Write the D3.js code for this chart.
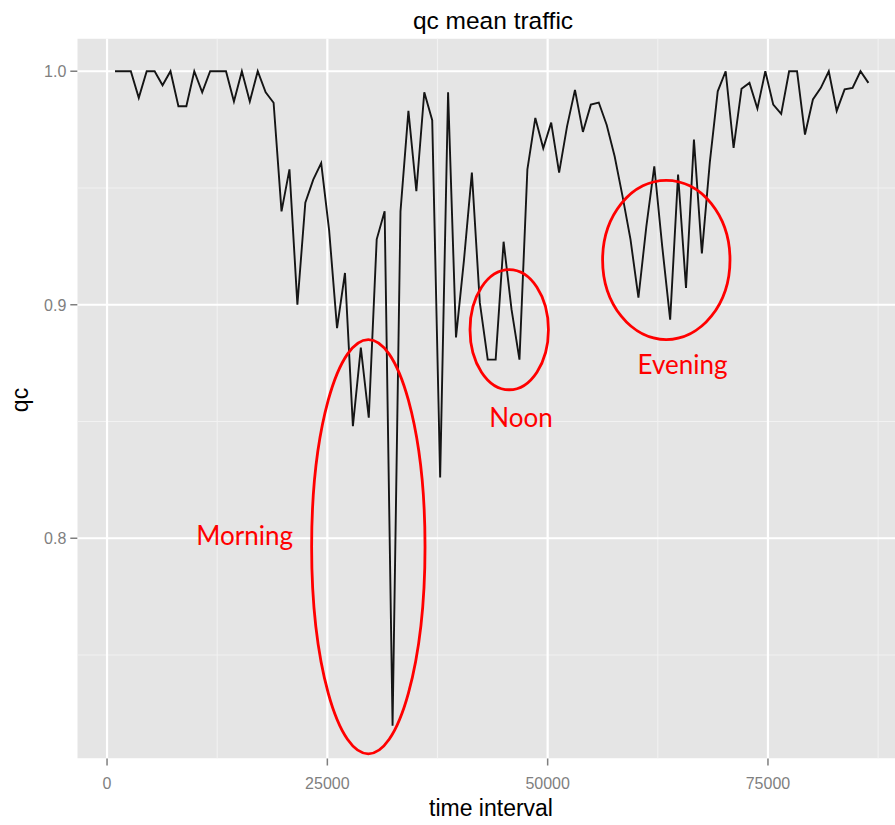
<!DOCTYPE html>
<html>
<head>
<meta charset="utf-8">
<script src="https://cdn.jsdelivr.net/npm/d3@7"></script>
<style>
  html, body { margin: 0; padding: 0; background: #fff; }
  svg { display: block; }
</style>
</head>
<body>
<svg id="chart" width="895" height="825"></svg>
<script>
// ---- data ----
const timeInterval = [
  900, 1800, 2700, 3600, 4500, 5400, 6300, 7200, 8100, 9000,
  9900, 10800, 11700, 12600, 13500, 14400, 15300, 16200, 17100, 18000,
  18900, 19800, 20700, 21600, 22500, 23400, 24300, 25200, 26100, 27000,
  27900, 28800, 29700, 30600, 31500, 32400, 33300, 34200, 35100, 36000,
  36900, 37800, 38700, 39600, 40500, 41400, 42300, 43200, 44100, 45000,
  45900, 46800, 47700, 48600, 49500, 50400, 51300, 52200, 53100, 54000,
  54900, 55800, 56700, 57600, 58500, 59400, 60300, 61200, 62100, 63000,
  63900, 64800, 65700, 66600, 67500, 68400, 69300, 70200, 71100, 72000,
  72900, 73800, 74700, 75600, 76500, 77400, 78300, 79200, 80100, 81000,
  81900, 82800, 83700, 84600, 85500, 86400
];
const qc = [
  1.0, 1.0, 1.0, 0.9886, 1.0, 1.0, 0.994, 1.0, 0.985, 0.985,
  1.0, 0.991, 1.0, 1.0, 1.0, 0.987, 1.0, 0.987, 1.0, 0.991,
  0.9865, 0.940, 0.958, 0.900, 0.9437, 0.9536, 0.9607, 0.932, 0.890, 0.9136,
  0.848, 0.8816, 0.8516, 0.928, 0.940, 0.7197, 0.940, 0.983, 0.9486, 0.991,
  0.979, 0.826, 0.991, 0.886, 0.919, 0.9566, 0.901, 0.8765, 0.8765, 0.927,
  0.898, 0.8765, 0.958, 0.980, 0.967, 0.978, 0.9566, 0.9764, 0.992, 0.974,
  0.9857, 0.9866, 0.977, 0.9636, 0.9464, 0.928, 0.903, 0.9336, 0.9593, 0.925,
  0.8936, 0.9557, 0.9072, 0.9707, 0.922, 0.961, 0.9914, 1.0, 0.9672, 0.9925,
  0.995, 0.984, 1.0, 0.9857, 0.9817, 1.0, 1.0, 0.9729, 0.9879, 0.9929,
  1.0, 0.983, 0.9922, 0.9929, 1.0, 0.995
];
const xTicks = [0, 25000, 50000, 75000];
const xMinor = [12500, 37500, 62500, 87500];
const yTicks = [0.8, 0.9, 1.0];
const yMinor = [0.75, 0.85, 0.95];
const yTickLabels = ["0.8", "0.9", "1.0"];
const titleText = "qc mean traffic";
const xTitle = "time interval";
const yTitle = "qc";
// annotations (data coordinates)
const annoLabels = ["Morning", "Noon", "Evening"];
const annoCx = [29650, 45637, 63463];
const annoCy = [0.7964, 0.8893, 0.9192];
const annoRx = [6434, 4448, 7228];
const annoRy = [0.0887, 0.0257, 0.0341];
const labelX = [15613, 46976, 65302];
const labelY = [0.7972, 0.8478, 0.8703];

// ---- layout ----
const svg = d3.select("#chart");
const L = 77.3, R = 906.1, T = 38.5, B = 758.5;

const xExt = d3.extent(timeInterval);
const xPad = (xExt[1] - xExt[0]) * 0.05;
const x = d3.scaleLinear().domain([xExt[0] - xPad, xExt[1] + xPad]).range([L, R]);
const yExt = d3.extent(qc);
const yPad = (yExt[1] - yExt[0]) * 0.05;
const y = d3.scaleLinear().domain([yExt[0] - yPad, yExt[1] + yPad]).range([B, T]);

svg.append("rect").attr("width", 895).attr("height", 825).attr("fill", "#fff");

const clip = svg.append("defs").append("clipPath").attr("id", "panel");
clip.append("rect").attr("x", L).attr("y", T).attr("width", R - L).attr("height", B - T);

const panel = svg.append("g").attr("clip-path", "url(#panel)");
panel.append("rect").attr("x", L).attr("y", T).attr("width", R - L).attr("height", B - T)
  .attr("fill", "#e5e5e5");

// minor grid
panel.selectAll(".xminor").data(xMinor).enter().append("line")
  .attr("x1", d => x(d)).attr("x2", d => x(d)).attr("y1", T).attr("y2", B)
  .attr("stroke", "#f2f2f2").attr("stroke-width", 1.1);
panel.selectAll(".yminor").data(yMinor).enter().append("line")
  .attr("y1", d => y(d)).attr("y2", d => y(d)).attr("x1", L).attr("x2", R)
  .attr("stroke", "#f2f2f2").attr("stroke-width", 1.1);
// major grid
panel.selectAll(".xmajor").data(xTicks).enter().append("line")
  .attr("x1", d => x(d)).attr("x2", d => x(d)).attr("y1", T).attr("y2", B)
  .attr("stroke", "#ffffff").attr("stroke-width", 2.2);
panel.selectAll(".ymajor").data(yTicks).enter().append("line")
  .attr("y1", d => y(d)).attr("y2", d => y(d)).attr("x1", L).attr("x2", R)
  .attr("stroke", "#ffffff").attr("stroke-width", 2.2);

// data line
const pts = timeInterval.map((t, i) => [t, qc[i]]);
panel.append("path").datum(pts)
  .attr("d", d3.line().x(d => x(d[0])).y(d => y(d[1])))
  .attr("fill", "none").attr("stroke", "#151515").attr("stroke-width", 1.9)
  .attr("stroke-linejoin", "miter");

// annotations
const anno = svg.append("g");
annoLabels.forEach((lab, i) => {
  anno.append("ellipse")
    .attr("cx", x(annoCx[i])).attr("cy", y(annoCy[i]))
    .attr("rx", x(annoRx[i]) - x(0)).attr("ry", y(0) - y(annoRy[i]))
    .attr("fill", "none").attr("stroke", "#ff0000").attr("stroke-width", 2.8);
  anno.append("text")
    .attr("x", x(labelX[i])).attr("y", y(labelY[i]))
    .attr("text-anchor", "middle")
    .attr("font-family", "Lato, 'Open Sans', sans-serif")
    .attr("font-size", 26).attr("fill", "#ff0000")
    .text(lab);
});

// axes
const axG = svg.append("g").attr("font-family", "'Liberation Sans', Arial, sans-serif");
axG.selectAll(".xt").data(xTicks).enter().append("line")
  .attr("x1", d => x(d)).attr("x2", d => x(d)).attr("y1", B).attr("y2", B + 7)
  .attr("stroke", "#7f7f7f").attr("stroke-width", 1.5);
axG.selectAll(".xl").data(xTicks).enter().append("text")
  .attr("x", d => x(d)).attr("y", 789).attr("text-anchor", "middle")
  .attr("font-size", 16).attr("fill", "#7f7f7f")
  .text(d => d3.format("d")(d));
axG.selectAll(".yt").data(yTicks).enter().append("line")
  .attr("y1", d => y(d)).attr("y2", d => y(d)).attr("x1", L - 7).attr("x2", L)
  .attr("stroke", "#7f7f7f").attr("stroke-width", 1.5);
axG.selectAll(".yl").data(yTicks).enter().append("text")
  .attr("x", L - 11).attr("y", d => y(d) + 6).attr("text-anchor", "end")
  .attr("font-size", 16).attr("fill", "#7f7f7f")
  .text((d, i) => yTickLabels[i]);

axG.append("text").attr("x", 493).attr("y", 29).attr("text-anchor", "middle")
  .attr("font-size", 24.5).attr("fill", "#000").text(titleText);
axG.append("text").attr("x", 491).attr("y", 816).attr("text-anchor", "middle")
  .attr("font-size", 23).attr("fill", "#000").text(xTitle);
axG.append("text").attr("transform", "translate(28,400) rotate(-90)")
  .attr("text-anchor", "middle")
  .attr("font-size", 23).attr("fill", "#000").text(yTitle);
</script>
</body>
</html>
